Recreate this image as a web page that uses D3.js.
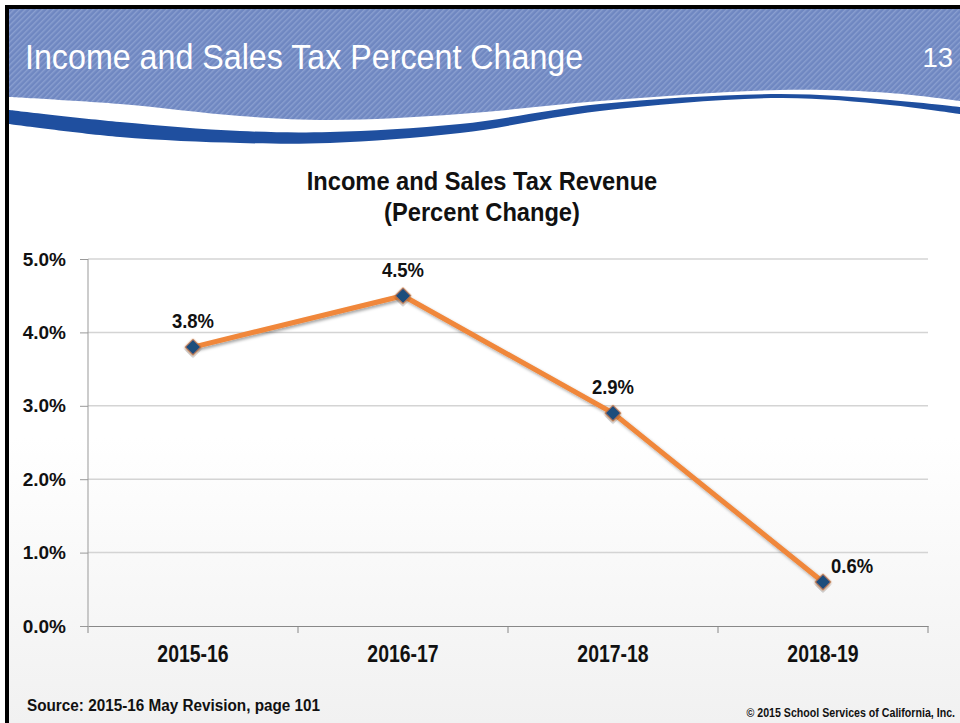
<!DOCTYPE html>
<meta charset="utf-8">
<title>Income and Sales Tax Percent Change</title>
<style>
  body { margin: 0; background: #fff; }
  svg { display: block; }
  text { font-family: "Liberation Sans", Arial, sans-serif; }
  .tick text { font-weight: bold; fill: #111; }
</style>
<body>
<script src="https://cdn.jsdelivr.net/npm/d3@7"></script>
<script>
  // chart values
  var years = ["2015-16", "2016-17", "2017-18", "2018-19"];
  var pctChange = [3.8, 4.5, 2.9, 0.6];
  var yTicks = [0, 1, 2, 3, 4, 5];

  var W = 960, H = 723;
  var margin = {top: 259, right: 32, bottom: 97, left: 88};

  var svg = d3.select("body").append("svg")
      .attr("width", W)
      .attr("height", H);

  // squeeze text horizontally around its anchor (stand-in for a narrow face)
  function squeeze(sel, sx) {
    sel.each(function() {
      var t = d3.select(this);
      var tx = +t.attr("x") || 0, ty = +t.attr("y") || 0;
      t.attr("x", 0).attr("y", 0)
       .attr("transform", "translate(" + tx + "," + ty + ") scale(" + sx + ",1)");
    });
  }

  var defs = svg.append("defs");

  // diagonal hatch for the header band
  var pat = defs.append("pattern")
      .attr("id", "hatch")
      .attr("patternUnits", "userSpaceOnUse")
      .attr("width", 4).attr("height", 4)
      .attr("patternTransform", "rotate(45)");
  pat.append("rect").attr("width", 4).attr("height", 4).attr("fill", "#6f87c1");
  pat.append("rect").attr("width", 1.4).attr("height", 4).attr("fill", "#8a9fd0");

  var bg = defs.append("linearGradient")
      .attr("id", "slidebg").attr("x1", 0).attr("y1", 0).attr("x2", 0).attr("y2", 1);
  bg.append("stop").attr("offset", "0%").attr("stop-color", "#ffffff");
  bg.append("stop").attr("offset", "60%").attr("stop-color", "#ffffff");
  bg.append("stop").attr("offset", "100%").attr("stop-color", "#f1f1f1");

  var shadow = defs.append("filter").attr("id", "shadow")
      .attr("x", "-20%").attr("y", "-20%").attr("width", "140%").attr("height", "140%");
  shadow.append("feDropShadow")
      .attr("dx", 1.5).attr("dy", 2).attr("stdDeviation", 1.5)
      .attr("flood-color", "#000").attr("flood-opacity", 0.35);

  // slide background + border
  svg.append("rect").attr("x", 9).attr("y", 9).attr("width", W - 9).attr("height", H - 9)
      .attr("fill", "url(#slidebg)");
  svg.append("rect").attr("x", 5).attr("y", 5).attr("width", 4).attr("height", H - 5).attr("fill", "#000");
  svg.append("rect").attr("x", 5).attr("y", 5).attr("width", W - 5).attr("height", 4).attr("fill", "#000");

  // header band with wave
  var curve = d3.line().curve(d3.curveCatmullRom.alpha(0.5));
  var hatchEdge = [[9, 97], [120, 104], [240, 116], [330, 120], [460, 114], [600, 101], [780, 90], [890, 93], [960, 101]];
  var bandTop = [[9, 110], [120, 122], [240, 131], [330, 132], [460, 124], [600, 104], [780, 94], [890, 100], [960, 107]];
  var bandBot = [[9, 124], [120, 137], [240, 143], [330, 143], [460, 133], [600, 111], [780, 98], [890, 105], [960, 114]];

  svg.append("path")
      .attr("d", "M9,9L960,9L" + curve(hatchEdge.slice().reverse()).slice(1) + "Z")
      .attr("fill", "url(#hatch)");
  svg.append("path")
      .attr("d", curve(bandTop) + "L" + curve(bandBot.slice().reverse()).slice(1) + "Z")
      .attr("fill", "#1f4f9f");

  squeeze(svg.append("text")
      .attr("x", 25).attr("y", 69)
      .attr("fill", "#fff")
      .style("font-size", "36px")
      .text("Income and Sales Tax Percent Change"), 0.895);
  squeeze(svg.append("text")
      .attr("x", 953).attr("y", 67)
      .attr("text-anchor", "end")
      .attr("fill", "#fff")
      .style("font-size", "28px")
      .text("13"), 0.98);

  // chart title
  var titleLines = ["Income and Sales Tax Revenue", "(Percent Change)"];
  squeeze(svg.append("g").selectAll("text")
      .data(titleLines)
      .enter().append("text")
      .attr("x", 482)
      .attr("y", function(d, i) { return 190 + i * 31; })
      .attr("text-anchor", "middle")
      .style("font-size", "26px").style("font-weight", "bold").attr("fill", "#111")
      .text(function(d) { return d; }), 0.91);

  // scales
  var x = d3.scaleBand().domain(years).range([margin.left, W - margin.right]).padding(0);
  var y = d3.scaleLinear().domain([0, 5]).range([H - margin.bottom, margin.top]);

  // gridlines
  svg.append("g").selectAll("line")
      .data(yTicks.filter(function(d) { return d > 0; }))
      .enter().append("line")
      .attr("x1", margin.left).attr("x2", W - margin.right)
      .attr("y1", function(d) { return y(d); })
      .attr("y2", function(d) { return y(d); })
      .attr("stroke", "#d4d4d4").attr("stroke-width", 1.5);

  // y axis
  var yAxis = svg.append("g")
      .attr("transform", "translate(" + margin.left + ",0)")
      .call(d3.axisLeft(y).tickValues(yTicks).tickSize(8).tickPadding(14)
        .tickFormat(function(d) { return d3.format(".1f")(d) + "%"; }));
  yAxis.select(".domain").attr("stroke", "#999").attr("d", "M0," + y(5) + "V" + y(0));
  yAxis.selectAll(".tick line").attr("stroke", "#999");
  yAxis.selectAll(".tick text").style("font-size", "19px").attr("x", -22);

  // x axis
  var xAxis = svg.append("g")
      .attr("transform", "translate(0," + y(0) + ")")
      .call(d3.axisBottom(x).tickSize(0).tickPadding(20));
  xAxis.select(".domain").attr("stroke", "#888").attr("stroke-width", 1.2);
  squeeze(xAxis.selectAll(".tick text").style("font-size", "23px"), 0.845);
  xAxis.selectAll(".bound")
      .data(d3.range(years.length + 1))
      .enter().append("line")
      .attr("x1", function(i) { return margin.left + i * x.bandwidth(); })
      .attr("x2", function(i) { return margin.left + i * x.bandwidth(); })
      .attr("y1", 0).attr("y2", 7)
      .attr("stroke", "#888");

  // line + markers
  var pts = years.map(function(d, i) { return {year: d, v: pctChange[i]}; });
  var cx = function(d) { return x(d.year) + x.bandwidth() / 2; };

  svg.append("path")
      .datum(pts)
      .attr("fill", "none")
      .attr("stroke", "#f0873a")
      .attr("stroke-width", 5)
      .attr("filter", "url(#shadow)")
      .attr("d", d3.line().x(cx).y(function(d) { return y(d.v); }));

  svg.append("g").selectAll("path")
      .data(pts)
      .enter().append("path")
      .attr("d", d3.symbol().type(d3.symbolSquare).size(130))
      .attr("transform", function(d) { return "translate(" + cx(d) + "," + y(d.v) + ") rotate(45)"; })
      .attr("fill", "#1f4e7c")
      .attr("stroke", "#e07a30")
      .attr("stroke-width", 0.8)
      .attr("filter", "url(#shadow)");

  var last = pts.length - 1;
  squeeze(svg.append("g").selectAll("text")
      .data(pts)
      .enter().append("text")
      .attr("x", function(d, i) { return i === last ? cx(d) + 8 : cx(d); })
      .attr("y", function(d, i) { return y(d.v) + (i === last ? -9 : -19); })
      .attr("text-anchor", function(d, i) { return i === last ? "start" : "middle"; })
      .style("font-size", "21px").style("font-weight", "bold")
      .attr("fill", "#111")
      .text(function(d) { return d3.format(".1f")(d.v) + "%"; }), 0.88);

  // footer
  squeeze(svg.append("text")
      .attr("x", 27).attr("y", 711)
      .style("font-size", "17px").style("font-weight", "bold").attr("fill", "#111")
      .text("Source: 2015-16 May Revision, page 101"), 0.9);
  squeeze(svg.append("text")
      .attr("x", 955).attr("y", 717)
      .attr("text-anchor", "end")
      .style("font-size", "12.5px").style("font-weight", "bold").attr("fill", "#111")
      .text("\u00a9 2015 School Services of California, Inc."), 0.85);
</script>
</body>
